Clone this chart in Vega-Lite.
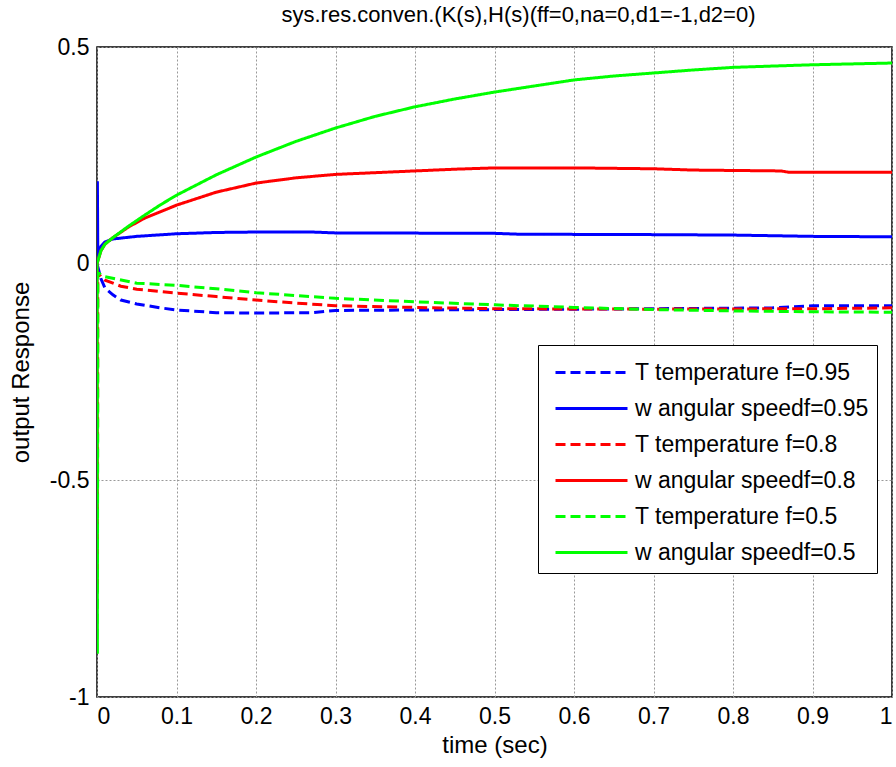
{
  "$schema": "https://vega.github.io/schema/vega-lite/v6.json",
  "width": 795,
  "height": 650,
  "autosize": {"type": "none"},
  "padding": {"left": 97, "top": 47, "right": 4, "bottom": 70},
  "background": "white",
  "title": {"text": "sys.res.conven.(K(s),H(s)(ff=0,na=0,d1=-1,d2=0)", "font": "Liberation Sans", "fontSize": 22, "fontWeight": "normal", "color": "black", "offset": 9, "dx": 24},
  "config": {
    "font": "Liberation Sans",
    "view": {"stroke": "black", "strokeWidth": 1.5},
    "axis": {"labelFont": "Liberation Sans", "labelFontSize": 23, "labelColor": "black", "titleFont": "Liberation Sans", "titleFontSize": 24, "titleFontWeight": "normal", "titleColor": "black", "grid": true, "gridColor": "#999", "gridDash": [2, 2], "gridWidth": 1, "domain": false, "ticks": false, "labelPadding": 8}
  },
  "data": {"values": [
    {"s": "T temperature f=0.95", "t": 0, "v": 0},
    {"s": "T temperature f=0.95", "t": 0.005, "v": -0.035},
    {"s": "T temperature f=0.95", "t": 0.01, "v": -0.056},
    {"s": "T temperature f=0.95", "t": 0.02, "v": -0.072},
    {"s": "T temperature f=0.95", "t": 0.03, "v": -0.084},
    {"s": "T temperature f=0.95", "t": 0.05, "v": -0.093},
    {"s": "T temperature f=0.95", "t": 0.08, "v": -0.102},
    {"s": "T temperature f=0.95", "t": 0.1, "v": -0.107},
    {"s": "T temperature f=0.95", "t": 0.15, "v": -0.113},
    {"s": "T temperature f=0.95", "t": 0.2, "v": -0.114},
    {"s": "T temperature f=0.95", "t": 0.27, "v": -0.113},
    {"s": "T temperature f=0.95", "t": 0.3, "v": -0.108},
    {"s": "T temperature f=0.95", "t": 0.4, "v": -0.107},
    {"s": "T temperature f=0.95", "t": 0.5, "v": -0.106},
    {"s": "T temperature f=0.95", "t": 0.7, "v": -0.104},
    {"s": "T temperature f=0.95", "t": 0.85, "v": -0.102},
    {"s": "T temperature f=0.95", "t": 0.9, "v": -0.097},
    {"s": "T temperature f=0.95", "t": 1.0, "v": -0.097},

    {"s": "w angular speedf=0.95", "t": 0, "v": 0},
    {"s": "w angular speedf=0.95", "t": 0.0005, "v": 0.19},
    {"s": "w angular speedf=0.95", "t": 0.001, "v": 0.02},
    {"s": "w angular speedf=0.95", "t": 0.005, "v": 0.04},
    {"s": "w angular speedf=0.95", "t": 0.01, "v": 0.05},
    {"s": "w angular speedf=0.95", "t": 0.02, "v": 0.057},
    {"s": "w angular speedf=0.95", "t": 0.05, "v": 0.063},
    {"s": "w angular speedf=0.95", "t": 0.1, "v": 0.069},
    {"s": "w angular speedf=0.95", "t": 0.15, "v": 0.072},
    {"s": "w angular speedf=0.95", "t": 0.2, "v": 0.073},
    {"s": "w angular speedf=0.95", "t": 0.27, "v": 0.073},
    {"s": "w angular speedf=0.95", "t": 0.3, "v": 0.071},
    {"s": "w angular speedf=0.95", "t": 0.5, "v": 0.07},
    {"s": "w angular speedf=0.95", "t": 0.53, "v": 0.068},
    {"s": "w angular speedf=0.95", "t": 0.7, "v": 0.067},
    {"s": "w angular speedf=0.95", "t": 0.8, "v": 0.066},
    {"s": "w angular speedf=0.95", "t": 0.9, "v": 0.063},
    {"s": "w angular speedf=0.95", "t": 1.0, "v": 0.062},

    {"s": "T temperature f=0.8", "t": 0, "v": 0},
    {"s": "T temperature f=0.8", "t": 0.0005, "v": -0.76},
    {"s": "T temperature f=0.8", "t": 0.001, "v": -0.02},
    {"s": "T temperature f=0.8", "t": 0.005, "v": -0.03},
    {"s": "T temperature f=0.8", "t": 0.01, "v": -0.038},
    {"s": "T temperature f=0.8", "t": 0.03, "v": -0.052},
    {"s": "T temperature f=0.8", "t": 0.05, "v": -0.059},
    {"s": "T temperature f=0.8", "t": 0.1, "v": -0.068},
    {"s": "T temperature f=0.8", "t": 0.15, "v": -0.076},
    {"s": "T temperature f=0.8", "t": 0.2, "v": -0.084},
    {"s": "T temperature f=0.8", "t": 0.25, "v": -0.091},
    {"s": "T temperature f=0.8", "t": 0.3, "v": -0.097},
    {"s": "T temperature f=0.8", "t": 0.4, "v": -0.101},
    {"s": "T temperature f=0.8", "t": 0.5, "v": -0.104},
    {"s": "T temperature f=0.8", "t": 0.7, "v": -0.105},
    {"s": "T temperature f=0.8", "t": 0.9, "v": -0.104},
    {"s": "T temperature f=0.8", "t": 1.0, "v": -0.102},

    {"s": "w angular speedf=0.8", "t": 0, "v": 0},
    {"s": "w angular speedf=0.8", "t": 0.005, "v": 0.03},
    {"s": "w angular speedf=0.8", "t": 0.01, "v": 0.045},
    {"s": "w angular speedf=0.8", "t": 0.02, "v": 0.06},
    {"s": "w angular speedf=0.8", "t": 0.04, "v": 0.085},
    {"s": "w angular speedf=0.8", "t": 0.06, "v": 0.105},
    {"s": "w angular speedf=0.8", "t": 0.08, "v": 0.12},
    {"s": "w angular speedf=0.8", "t": 0.1, "v": 0.135},
    {"s": "w angular speedf=0.8", "t": 0.15, "v": 0.165},
    {"s": "w angular speedf=0.8", "t": 0.2, "v": 0.186},
    {"s": "w angular speedf=0.8", "t": 0.25, "v": 0.198},
    {"s": "w angular speedf=0.8", "t": 0.3, "v": 0.206},
    {"s": "w angular speedf=0.8", "t": 0.35, "v": 0.21},
    {"s": "w angular speedf=0.8", "t": 0.4, "v": 0.214},
    {"s": "w angular speedf=0.8", "t": 0.45, "v": 0.218},
    {"s": "w angular speedf=0.8", "t": 0.5, "v": 0.221},
    {"s": "w angular speedf=0.8", "t": 0.6, "v": 0.221},
    {"s": "w angular speedf=0.8", "t": 0.7, "v": 0.219},
    {"s": "w angular speedf=0.8", "t": 0.75, "v": 0.216},
    {"s": "w angular speedf=0.8", "t": 0.86, "v": 0.214},
    {"s": "w angular speedf=0.8", "t": 0.87, "v": 0.211},
    {"s": "w angular speedf=0.8", "t": 1.0, "v": 0.211},

    {"s": "T temperature f=0.5", "t": 0, "v": 0},
    {"s": "T temperature f=0.5", "t": 0.0005, "v": -0.9},
    {"s": "T temperature f=0.5", "t": 0.001, "v": -0.02},
    {"s": "T temperature f=0.5", "t": 0.005, "v": -0.025},
    {"s": "T temperature f=0.5", "t": 0.01, "v": -0.03},
    {"s": "T temperature f=0.5", "t": 0.05, "v": -0.045},
    {"s": "T temperature f=0.5", "t": 0.1, "v": -0.05},
    {"s": "T temperature f=0.5", "t": 0.15, "v": -0.058},
    {"s": "T temperature f=0.5", "t": 0.2, "v": -0.067},
    {"s": "T temperature f=0.5", "t": 0.3, "v": -0.08},
    {"s": "T temperature f=0.5", "t": 0.4, "v": -0.088},
    {"s": "T temperature f=0.5", "t": 0.5, "v": -0.095},
    {"s": "T temperature f=0.5", "t": 0.6, "v": -0.101},
    {"s": "T temperature f=0.5", "t": 0.7, "v": -0.106},
    {"s": "T temperature f=0.5", "t": 0.8, "v": -0.109},
    {"s": "T temperature f=0.5", "t": 0.9, "v": -0.111},
    {"s": "T temperature f=0.5", "t": 1.0, "v": -0.112},

    {"s": "w angular speedf=0.5", "t": 0, "v": 0},
    {"s": "w angular speedf=0.5", "t": 0.005, "v": 0.03},
    {"s": "w angular speedf=0.5", "t": 0.01, "v": 0.045},
    {"s": "w angular speedf=0.5", "t": 0.02, "v": 0.06},
    {"s": "w angular speedf=0.5", "t": 0.04, "v": 0.087},
    {"s": "w angular speedf=0.5", "t": 0.06, "v": 0.112},
    {"s": "w angular speedf=0.5", "t": 0.08, "v": 0.136},
    {"s": "w angular speedf=0.5", "t": 0.1, "v": 0.158},
    {"s": "w angular speedf=0.5", "t": 0.15, "v": 0.205},
    {"s": "w angular speedf=0.5", "t": 0.2, "v": 0.246},
    {"s": "w angular speedf=0.5", "t": 0.25, "v": 0.282},
    {"s": "w angular speedf=0.5", "t": 0.3, "v": 0.313},
    {"s": "w angular speedf=0.5", "t": 0.35, "v": 0.34},
    {"s": "w angular speedf=0.5", "t": 0.4, "v": 0.362},
    {"s": "w angular speedf=0.5", "t": 0.45, "v": 0.38},
    {"s": "w angular speedf=0.5", "t": 0.5, "v": 0.396},
    {"s": "w angular speedf=0.5", "t": 0.55, "v": 0.41},
    {"s": "w angular speedf=0.5", "t": 0.6, "v": 0.424},
    {"s": "w angular speedf=0.5", "t": 0.65, "v": 0.433},
    {"s": "w angular speedf=0.5", "t": 0.7, "v": 0.44},
    {"s": "w angular speedf=0.5", "t": 0.75, "v": 0.447},
    {"s": "w angular speedf=0.5", "t": 0.8, "v": 0.453},
    {"s": "w angular speedf=0.5", "t": 0.85, "v": 0.456},
    {"s": "w angular speedf=0.5", "t": 0.9, "v": 0.459},
    {"s": "w angular speedf=0.5", "t": 0.95, "v": 0.461},
    {"s": "w angular speedf=0.5", "t": 1.0, "v": 0.463}
  ]},
  "mark": {"type": "line", "strokeWidth": 3, "clip": true},
  "encoding": {
    "x": {"field": "t", "type": "quantitative", "scale": {"domain": [0, 1], "nice": false}, "axis": {"title": "time (sec)", "values": [0, 0.1, 0.2, 0.3, 0.4, 0.5, 0.6, 0.7, 0.8, 0.9, 1], "format": "~g", "titlePadding": 5}},
    "y": {"field": "v", "type": "quantitative", "scale": {"domain": [-1, 0.5], "nice": false, "zero": false}, "axis": {"title": "output Response", "values": [-1, -0.5, 0, 0.5], "format": "~g", "labelExpr": "replace(datum.label, '\u2212', '-')", "titlePadding": 16}},
    "order": {"field": "t", "type": "quantitative"},
    "color": {"field": "s", "type": "nominal", "title": null,
      "scale": {"domain": ["T temperature f=0.95", "w angular speedf=0.95", "T temperature f=0.8", "w angular speedf=0.8", "T temperature f=0.5", "w angular speedf=0.5"], "range": ["#0000ff", "#0000ff", "#ff0000", "#ff0000", "#00ff00", "#00ff00"]},
      "legend": {"orient": "none", "legendX": 441, "legendY": 298, "fillColor": "white", "strokeColor": "black", "padding": 8, "symbolType": "M-2,0H2", "symbolSize": 1296, "symbolOffset": 26, "symbolStrokeWidth": 3, "rowPadding": 4, "labelFontSize": 23, "labelFont": "Liberation Sans", "labelColor": "black", "labelOffset": 24, "labelLimit": 400}},
    "strokeDash": {"field": "s", "type": "nominal", "title": null,
      "scale": {"domain": ["T temperature f=0.95", "w angular speedf=0.95", "T temperature f=0.8", "w angular speedf=0.8", "T temperature f=0.5", "w angular speedf=0.5"], "range": [[10, 5], [1, 0], [10, 5], [1, 0], [10, 5], [1, 0]]}}
  }
}
